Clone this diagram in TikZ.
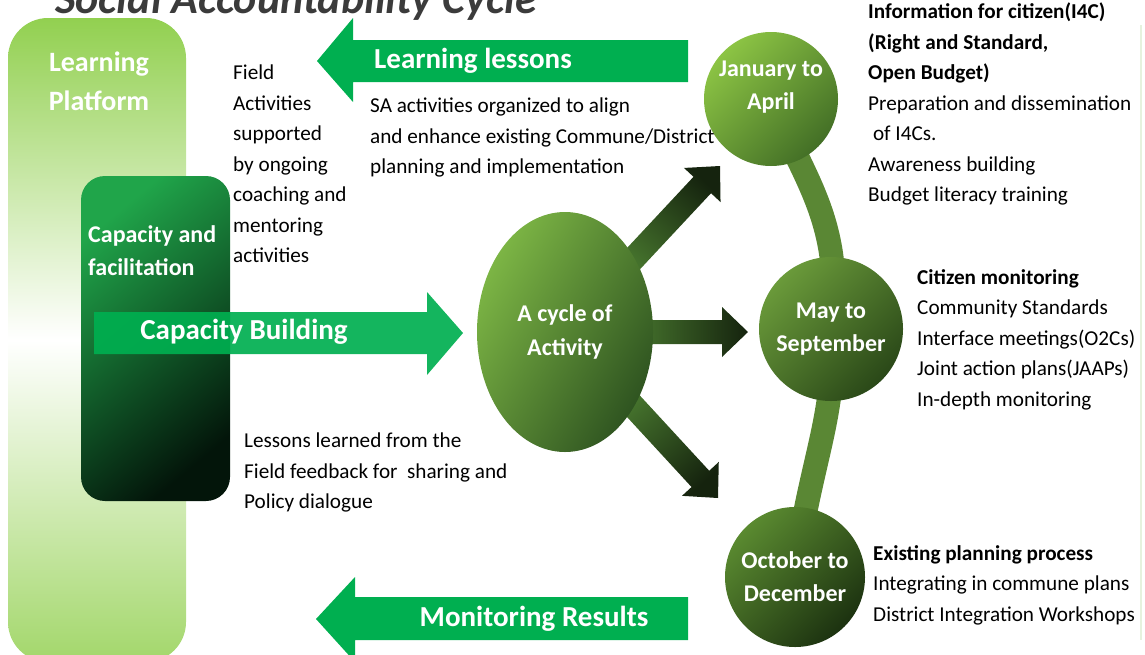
\documentclass[tikz,border=0pt]{standalone}
\usepackage{fontspec}
\setmainfont{Carlito}
\usepackage{tikz}
\usetikzlibrary{positioning,calc,backgrounds,shapes.geometric}

\definecolor{arrowgreen}{HTML}{00AF50}
\definecolor{platgreen}{HTML}{92D050}
\definecolor{platlow}{HTML}{A3D76B}
\definecolor{caplight}{HTML}{20A54A}
\definecolor{capdark}{HTML}{03150A}
\definecolor{cyclelight}{HTML}{7DB645}
\definecolor{cycledark}{HTML}{2E5320}
\definecolor{janlight}{HTML}{8CC444}
\definecolor{jandark}{HTML}{436F26}
\definecolor{maylight}{HTML}{6A9A3A}
\definecolor{maydark}{HTML}{2A4818}
\definecolor{octlight}{HTML}{5A8A30}
\definecolor{octdark}{HTML}{1C3210}
\definecolor{arrowbase}{HTML}{44712C}
\definecolor{arrowtip}{HTML}{15230E}
\definecolor{stemgreen}{HTML}{5A8734}
\definecolor{titlegray}{HTML}{3B3B3B}
\definecolor{edgegreen}{HTML}{E6F2DE}

\tikzset{
    headline/.style={font=\bfseries\itshape\fontsize{44}{48}\selectfont, text=titlegray, inner sep=0pt},
    platformbox/.style={rectangle, rounded corners=40pt, minimum width=178pt, minimum height=644pt,
        top color=platgreen, bottom color=platlow, middle color=white, inner sep=0pt},
    capbox/.style={rectangle, rounded corners=24pt, minimum width=149pt, minimum height=325pt,
        top color=caplight, bottom color=capdark, shading angle=40, inner sep=0pt},
    paneltext/.style={text=white, align=center, inner sep=0pt, font=\bfseries\fontsize{28}{39}\selectfont},
    bigarrow/.style={fill=arrowgreen},
    arrowlabel/.style={text=white, inner sep=0pt, font=\bfseries\fontsize{29}{32}\selectfont},
    bodytext/.style={align=left, anchor=north west, inner sep=0pt, font=\fontsize{21.2}{30.5}\selectfont},
    monthcircle/.style={circle, text=white, align=center, inner sep=0pt, font=\bfseries\fontsize{24}{33}\selectfont},
    stemline/.style={line width=24pt, draw=stemgreen},
}

% shaded arrow from the cycle ellipse to a free tip
\newcommand{\cyclearrow}[2]{%
    \coordinate (#1-s) at ($(cycle.center)!0.4!(#1)$);
    \coordinate (#1-b) at ($(#1)!26pt!(cycle.center)$);
    \shade[top color=arrowtip, bottom color=arrowbase, shading angle=#2]
        ($(#1-s)!12pt!90:(#1)$) -- ($(#1-b)!12pt!90:(#1)$) -- ($(#1-b)!25pt!90:(#1)$) -- (#1)
        -- ($(#1-b)!25pt!-90:(#1)$) -- ($(#1-b)!12pt!-90:(#1)$) -- ($(#1-s)!12pt!-90:(#1)$) -- cycle;
}

\begin{document}
\begin{tikzpicture}[x=1pt, y=-1pt]
    \useasboundingbox (0,0) rectangle (1145,654);
    \clip (0,0) rectangle (1145,654);

    % title, cut by the top edge
    \node[headline, anchor=base west] (title) at (55,13) {Social Accountability Cycle};
    \draw[edgegreen, line width=2pt] (1141,25) -- (1141,640);

    % left panels
    \node[platformbox] (platform) at (97,340) {};
    \node[capbox] (capbox) at (155.5,338.5) {};
    \node[paneltext] (platformlabel) at (99,81) {Learning\\Platform};
    \node[paneltext, anchor=west, align=left, font=\bfseries\fontsize{24}{33}\selectfont] (caplabel) at (88,251) {Capacity and\\facilitation};

    % big green arrows
    \fill[bigarrow] (688,40) -- (353,40) -- (353,18) -- (317,61) -- (353,102) -- (353,82) -- (688,82) -- cycle;
    \node[arrowlabel] (lessons) at (473,61) {Learning lessons};
    \fill[bigarrow, fill opacity=0.92] (94,312) -- (427,312) -- (427,292) -- (463,333) -- (427,375) -- (427,354) -- (94,354) -- cycle;
    \node[arrowlabel] (building) at (244,332) {Capacity Building};
    \fill[bigarrow] (688,597) -- (355,597) -- (355,577) -- (316,619) -- (355,662) -- (355,640) -- (688,640) -- cycle;
    \node[arrowlabel] (results) at (534,619) {Monitoring Results};

    % texts
    \node[bodytext] (fieldtext) at (233,65) {Field\\Activities\\supported\\by ongoing\\coaching and\\mentoring\\activities};
    \node[bodytext] (lessontext) at (244,433) {Lessons learned from the\\Field feedback for~ sharing and\\Policy dialogue};

    % cycle and months
    \node[ellipse, minimum width=176pt, minimum height=240pt, inner sep=0pt, text=white, align=center,
        font=\bfseries\fontsize{24}{34}\selectfont,
        top color=cyclelight, bottom color=cycledark, shading angle=60] (cycle) at (565,332) {A cycle of\\Activity};
    \node[monthcircle, minimum size=134pt, text depth=28pt, top color=janlight, bottom color=jandark, shading angle=45] (jan) at (771,99) {January to\\April};
    \node[monthcircle, minimum size=144pt, top color=maylight, bottom color=maydark, shading angle=45] (may) at (831,329) {May to\\September};
    \node[monthcircle, minimum size=140pt, top color=octlight, bottom color=octdark, shading angle=45] (oct) at (795,577) {October to\\December};

    \coordinate (tipjan) at (720,166);
    \coordinate (tipmay) at (748,332);
    \coordinate (tipoct) at (718,498);

    \begin{scope}[on background layer]
        \draw[stemline] (jan.center) .. controls (800,175) and (845,220) .. (may.center);
        \draw[stemline] (may.center) .. controls (838,415) and (808,465) .. (oct.center);
        \cyclearrow{tipjan}{-43}
        \cyclearrow{tipmay}{-90}
        \cyclearrow{tipoct}{-137}
    \end{scope}

    \node[bodytext] (satext) at (370,98) {SA activities organized to align\\and enhance existing Commune/District\\planning and implementation};
    \node[bodytext] (infotext) at (868,3) {\textbf{Information for citizen(I4C)}\\\textbf{(Right and Standard,}\\\textbf{Open Budget)}\\Preparation and dissemination\\~of I4Cs.\\Awareness building\\Budget literacy training};
    \node[bodytext] (monitortext) at (917,269) {\textbf{Citizen monitoring}\\Community Standards\\Interface meetings(O2Cs)\\Joint action plans(JAAPs)\\In-depth monitoring};
    \node[bodytext] (planningtext) at (873,545) {\textbf{Existing planning process}\\Integrating in commune plans\\District Integration Workshops};
\end{tikzpicture}
\end{document}
